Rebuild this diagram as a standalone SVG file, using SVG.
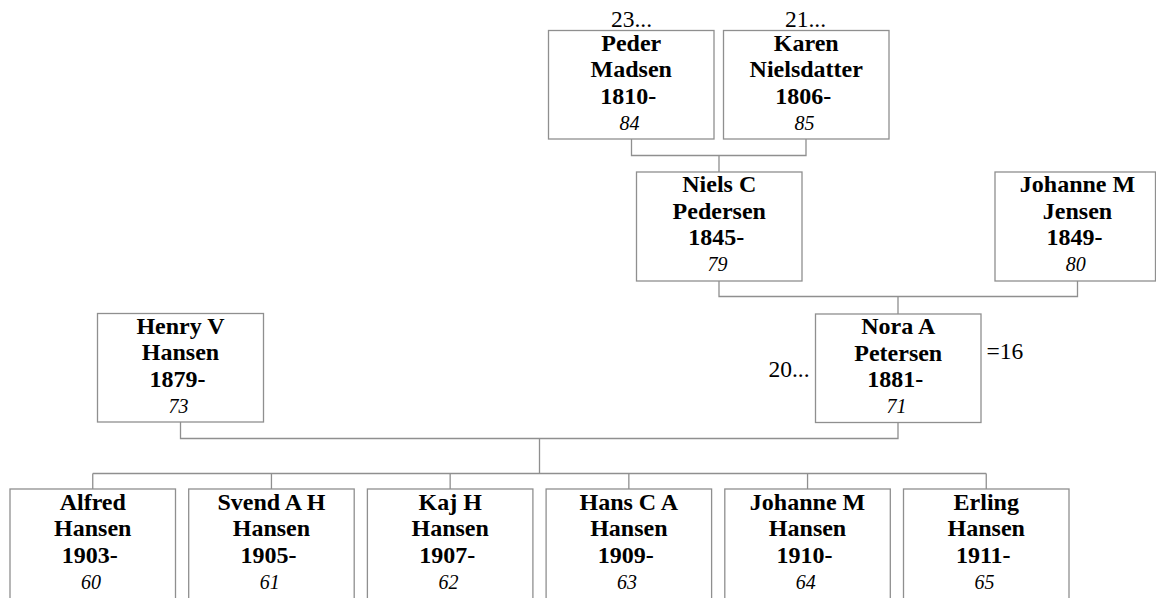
<svg xmlns="http://www.w3.org/2000/svg" width="1156" height="598" viewBox="0 0 1156 598">
<style>
.box{fill:#fff;stroke:#8f8f8f;stroke-width:1.3}
.conn{fill:none;stroke:#8f8f8f;stroke-width:1.3}
.n{font-weight:bold;font-size:24px;text-anchor:middle;fill:#000}
.i{font-style:italic;font-size:20px;text-anchor:middle;fill:#000}
.r{font-size:23.5px;fill:#000}
</style>
<rect width="1156" height="598" fill="#fff"/>
<g id="connectors">
<path class="conn" d="M631.5 139 V155.5 H806 V139 M719 155.5 V172"/>
<path class="conn" d="M719 281 V296.5 H1077.5 V281 M898 296.5 V314"/>
<path class="conn" d="M180.5 422 V438.5 H898 V422.5 M539.5 438.5 V473.5"/>
<path class="conn" d="M92.75 473.5 H986.25 M92.75 473.5 V489 M271.45 473.5 V489 M450.15 473.5 V489 M628.85 473.5 V489 M807.55 473.5 V489 M986.25 473.5 V489"/>
</g>
<g font-family="'Liberation Serif', 'Times New Roman', Tinos, 'DejaVu Serif', serif">
<g id="peder">
<rect class="box" x="548.5" y="30.5" width="165.5" height="108.5"/>
<text class="r" x="631.5" y="26.5" text-anchor="middle">23...</text>
<text class="n" x="631.25" y="50.5">Peder</text>
<text class="n" x="631.25" y="77.2">Madsen</text>
<text class="n" x="628.25" y="103.8">1810-</text>
<text class="i" x="629.5" y="129.8">84</text>
</g>
<g id="karen">
<rect class="box" x="723.5" y="30.5" width="165.5" height="108.5"/>
<text class="r" x="805.5" y="26.5" text-anchor="middle">21...</text>
<text class="n" x="806.25" y="50.5">Karen</text>
<text class="n" x="806.25" y="77.2">Nielsdatter</text>
<text class="n" x="803.25" y="103.8">1806-</text>
<text class="i" x="804.5" y="129.8">85</text>
</g>
<g id="niels">
<rect class="box" x="636.5" y="172" width="165.5" height="109"/>
<text class="n" x="719.25" y="192">Niels C</text>
<text class="n" x="719.25" y="218.7">Pedersen</text>
<text class="n" x="716.25" y="245.3">1845-</text>
<text class="i" x="717.5" y="271.3">79</text>
</g>
<g id="johanne-jensen">
<rect class="box" x="995" y="172" width="160.5" height="109"/>
<text class="n" x="1077.5" y="192">Johanne M</text>
<text class="n" x="1077.5" y="218.7">Jensen</text>
<text class="n" x="1074.5" y="245.3">1849-</text>
<text class="i" x="1075.75" y="271.3">80</text>
</g>
<g id="henry">
<rect class="box" x="97.5" y="313.5" width="166" height="108.5"/>
<text class="n" x="180.5" y="333.5">Henry V</text>
<text class="n" x="180.5" y="360.2">Hansen</text>
<text class="n" x="177.5" y="386.8">1879-</text>
<text class="i" x="178.5" y="412.8">73</text>
</g>
<g id="nora">
<rect class="box" x="815.5" y="314" width="165.5" height="108.5"/>
<text class="r" x="809.5" y="376.7" text-anchor="end">20...</text>
<text class="r" x="986.5" y="359">=16</text>
<text class="n" x="898.25" y="334">Nora A</text>
<text class="n" x="898.25" y="360.7">Petersen</text>
<text class="n" x="895.25" y="387.3">1881-</text>
<text class="i" x="896.5" y="413.3">71</text>
</g>
<g id="alfred">
<rect class="box" x="10" y="489" width="165.5" height="115"/>
<text class="n" x="92.75" y="509.5">Alfred</text>
<text class="n" x="92.75" y="536.2">Hansen</text>
<text class="n" x="89.75" y="562.8">1903-</text>
<text class="i" x="91" y="588.8">60</text>
</g>
<g id="svend">
<rect class="box" x="188.7" y="489" width="165.5" height="115"/>
<text class="n" x="271.45" y="509.5">Svend A H</text>
<text class="n" x="271.45" y="536.2">Hansen</text>
<text class="n" x="268.45" y="562.8">1905-</text>
<text class="i" x="269.7" y="588.8">61</text>
</g>
<g id="kaj">
<rect class="box" x="367.4" y="489" width="165.5" height="115"/>
<text class="n" x="450.15" y="509.5">Kaj H</text>
<text class="n" x="450.15" y="536.2">Hansen</text>
<text class="n" x="447.15" y="562.8">1907-</text>
<text class="i" x="448.4" y="588.8">62</text>
</g>
<g id="hans">
<rect class="box" x="546.1" y="489" width="165.5" height="115"/>
<text class="n" x="628.85" y="509.5">Hans C A</text>
<text class="n" x="628.85" y="536.2">Hansen</text>
<text class="n" x="625.85" y="562.8">1909-</text>
<text class="i" x="627.1" y="588.8">63</text>
</g>
<g id="johanne-hansen">
<rect class="box" x="724.8" y="489" width="165.5" height="115"/>
<text class="n" x="807.55" y="509.5">Johanne M</text>
<text class="n" x="807.55" y="536.2">Hansen</text>
<text class="n" x="804.55" y="562.8">1910-</text>
<text class="i" x="805.8" y="588.8">64</text>
</g>
<g id="erling">
<rect class="box" x="903.5" y="489" width="165.5" height="115"/>
<text class="n" x="986.25" y="509.5">Erling</text>
<text class="n" x="986.25" y="536.2">Hansen</text>
<text class="n" x="983.25" y="562.8">1911-</text>
<text class="i" x="984.5" y="588.8">65</text>
</g>
</g>
</svg>
